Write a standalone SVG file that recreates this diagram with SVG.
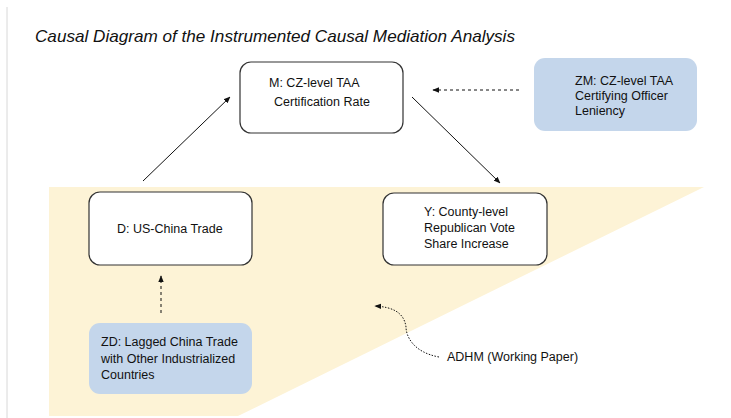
<svg xmlns="http://www.w3.org/2000/svg" width="731" height="418" viewBox="0 0 731 418">
<style>
text{font-family:"Liberation Sans",Arial,sans-serif;font-size:12.5px;fill:#111}
.box{stroke:#333;stroke-width:1.2}
.w{fill:#fff}
.b{fill:#c4d6eb;stroke:none}
.c{stroke:#111;stroke-width:1;fill:none}
.d{stroke-dasharray:3,3}
</style>
<defs>
<marker id="ah" viewBox="0 0 10 10" refX="9" refY="5" markerWidth="7" markerHeight="7" orient="auto" markerUnits="userSpaceOnUse">
<path d="M0,1 L10,5 L0,9 Z" fill="#111"/>
</marker>
</defs>
<rect x="0" y="0" width="731" height="418" fill="#fff"/>
<line x1="7" y1="7" x2="7" y2="418" stroke="#d8d8d8" stroke-width="1"/>
<polygon points="49,187 704,187 238,416 49,416" fill="#fdf3d6"/>
<text x="35" y="42" textLength="480" lengthAdjust="spacingAndGlyphs" style="font-size:17px;font-style:italic">Causal Diagram of the Instrumented Causal Mediation Analysis</text>
<g id="connectors">
<line class="c" x1="143" y1="181" x2="230" y2="97" marker-end="url(#ah)"/>
<line class="c" x1="412" y1="97" x2="500" y2="183" marker-end="url(#ah)"/>
<line class="c d" x1="519" y1="90" x2="433" y2="90" marker-end="url(#ah)"/>
<line class="c d" x1="161" y1="313" x2="161" y2="276" marker-end="url(#ah)"/>
<path class="c" d="M439,357 C412,352 406,335 406,327 C404,312 392,307 375,306" stroke-dasharray="1.5,1.5" stroke-width="0.9" marker-end="url(#ah)"/>
</g>
<g id="M">
<rect class="box w" x="240" y="62" width="163" height="71" rx="11"/>
<text x="269" y="87">M: CZ-level TAA</text>
<text x="274" y="106">Certification Rate</text>
</g>
<g id="ZM">
<rect class="b" x="534" y="58" width="163" height="73" rx="11"/>
<text x="575" y="85">ZM: CZ-level TAA</text>
<text x="575" y="100">Certifying Officer</text>
<text x="575" y="115">Leniency</text>
</g>
<g id="D">
<rect class="box w" x="89" y="192" width="163" height="73" rx="11"/>
<text x="117" y="233">D: US-China Trade</text>
</g>
<g id="Y">
<rect class="box w" x="383" y="193" width="164" height="72" rx="11"/>
<text x="424" y="216">Y: County-level</text>
<text x="424" y="232">Republican Vote</text>
<text x="424" y="248">Share Increase</text>
</g>
<g id="ZD">
<rect class="b" x="89" y="323" width="163" height="71" rx="11"/>
<text x="101" y="346">ZD: Lagged China Trade</text>
<text x="101" y="363">with Other Industrialized</text>
<text x="101" y="379">Countries</text>
</g>
<g id="ADHM">
<text x="447" y="361">ADHM (Working Paper)</text>
</g>
</svg>
